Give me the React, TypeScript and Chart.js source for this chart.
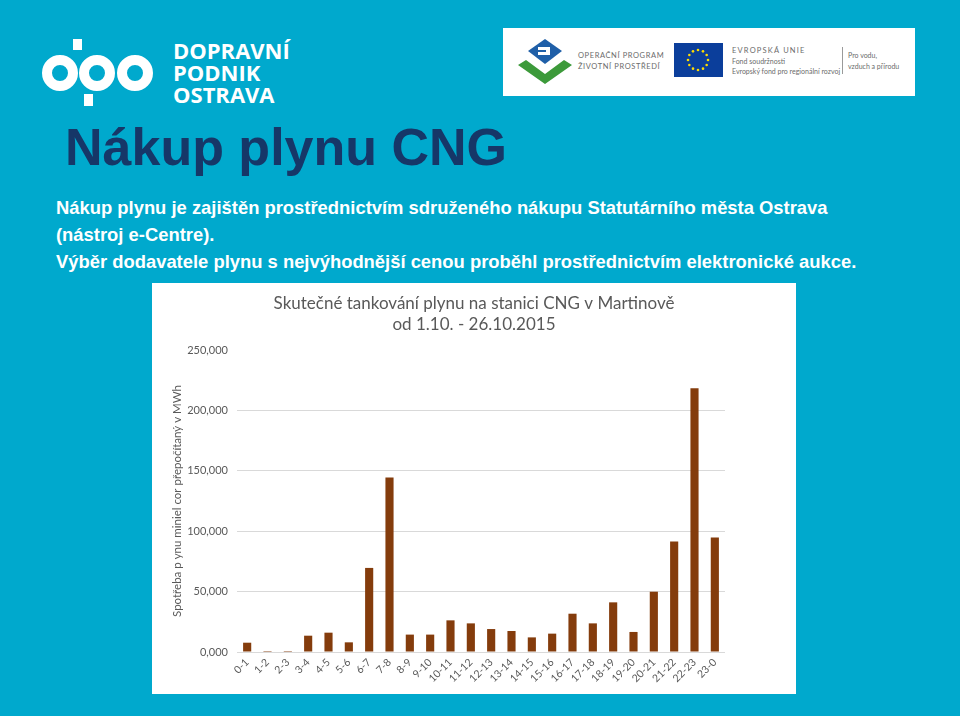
import React, { useEffect, useRef } from "react";
import { Chart, registerables } from "chart.js";

Chart.register(...registerables);

const categories = [
  "0-1", "1-2", "2-3", "3-4", "4-5", "5-6", "6-7", "7-8", "8-9", "9-10", "10-11", "11-12",
  "12-13", "13-14", "14-15", "15-16", "16-17", "17-18", "18-19", "19-20", "20-21", "21-22", "22-23", "23-0",
];
const consumption = [
  7700, 800, 800, 13500, 16000, 8000, 69600, 144400, 14400, 14400, 26200, 23700,
  19000, 17400, 12100, 15200, 31700, 23700, 41100, 16600, 49900, 91400, 218300, 94700,
];
const yTicks = [0, 50000, 100000, 150000, 200000, 250000];
const yTickLabels = ["0,000", "50,000", "100,000", "150,000", "200,000", "250,000"];
const chartTitle = ["Skutečné tankování plynu na stanici CNG v Martinově", "od 1.10. - 26.10.2015"];
const yAxisTitle = "Spotřeba p ynu miniel cor přepočítaný v MWh";

const slideTitle = "Nákup plynu CNG";
const bodyLines = [
  "Nákup plynu je zajištěn prostřednictvím sdruženého nákupu Statutárního města Ostrava",
  "(nástroj e-Centre).",
  "Výběr dodavatele plynu s nejvýhodnější cenou proběhl prostřednictvím elektronické aukce.",
];

const GRAY = "#595959";

function BarChart() {
  const ref = useRef<HTMLCanvasElement | null>(null);
  useEffect(() => {
    if (!ref.current) return;
    const chart = new Chart(ref.current, {
      type: "bar",
      data: {
        labels: categories,
        datasets: [
          {
            data: consumption,
            backgroundColor: "#843C0C",
            barPercentage: 0.4,
            categoryPercentage: 1,
            yAxisID: "y",
          },
        ],
      },
      options: {
        animation: false,
        responsive: false,
        maintainAspectRatio: false,
        layout: { padding: 0 },
        plugins: {
          legend: { display: false },
          tooltip: { enabled: false },
          title: {
            display: true,
            text: chartTitle,
            color: GRAY,
            font: { family: "Lato", size: 17, weight: "normal", lineHeight: 1.235 },
            padding: { top: 10, bottom: 15 },
          },
        },
        scales: {
          x: {
            grid: { display: false, drawTicks: false },
            border: { display: false },
            ticks: {
              color: GRAY,
              font: { family: "Lato", size: 10.5 },
              minRotation: 45,
              maxRotation: 45,
              autoSkip: false,
              padding: 4,
            },
            afterFit: (s: any) => {
              s.height = 42;
            },
          },
          y: {
            min: 0,
            max: 250000,
            afterBuildTicks: (s: any) => {
              s.ticks = yTicks.map((v) => ({ value: v }));
            },
            grid: {
              color: (ctx: any) =>
                ctx.tick && ctx.tick.value === 250000 ? "rgba(0,0,0,0)" : "#d9d9d9",
              drawTicks: false,
            },
            border: { display: false },
            ticks: {
              color: GRAY,
              font: { family: "Lato", size: 11 },
              padding: 9,
              callback: (_v: any, i: number) => yTickLabels[i],
            },
            title: {
              display: true,
              text: yAxisTitle,
              color: GRAY,
              font: { family: "Lato", size: 11.5 },
              padding: { top: 18, bottom: 0 },
            },
            afterFit: (s: any) => {
              s.width = 85;
            },
          },
          yRight: {
            type: "linear",
            position: "right",
            display: true,
            grid: { display: false, drawTicks: false },
            border: { display: false },
            ticks: { display: false },
            afterFit: (s: any) => {
              s.width = 71;
            },
          },
        },
      },
    });
    return () => chart.destroy();
  }, []);
  return (
    <canvas
      ref={ref}
      width={644}
      height={411}
      style={{ position: "absolute", left: 152, top: 283, width: 644, height: 411, background: "#fff" }}
    />
  );
}

function DpoLogo() {
  return (
    <>
      <svg width={140} height={80} style={{ position: "absolute", left: 30, top: 32 }}>
        <g fill="none" stroke="#fff" strokeWidth={10}>
          <circle cx={30} cy={41} r={13} />
          <circle cx={67} cy={41} r={13} />
          <circle cx={105} cy={41} r={13} />
        </g>
        <rect x={43} y={7} width={9} height={11} fill="#fff" />
        <rect x={54} y={62} width={9} height={12} fill="#fff" />
      </svg>
      <div
        style={{
          position: "absolute",
          left: 173,
          top: 39,
          color: "#fff",
          fontFamily: "'Open Sans', sans-serif",
          fontWeight: 700,
          fontSize: 22,
          lineHeight: "22px",
        }}
      >
        <div>DOPRAVNÍ</div>
        <div>PODNIK</div>
        <div>OSTRAVA</div>
      </div>
    </>
  );
}

function EuStars() {
  const stars = [];
  for (let i = 0; i < 12; i++) {
    const a = (i / 12) * Math.PI * 2;
    stars.push(<circle key={i} cx={24 + 10 * Math.cos(a)} cy={17 + 10 * Math.sin(a)} r={1.3} fill="#ffdd00" />);
  }
  return stars;
}

function PartnerLogos() {
  const small: React.CSSProperties = {
    position: "absolute",
    fontFamily: "Lato, sans-serif",
    color: "#6b6b6b",
    whiteSpace: "nowrap",
    lineHeight: 1,
  };
  return (
    <div style={{ position: "absolute", left: 503, top: 28, width: 412, height: 68, background: "#fff" }}>
      <svg width={56} height={46} style={{ position: "absolute", left: 14, top: 11 }}>
        <polygon points="28,0 45,12 28,25 11,12" fill="#1f5fa8" />
        <polygon points="21,8 33,8 33,16 21,16 21,13 29,13 29,11 21,11" fill="#fff" />
        <polygon points="1,26 9,21 28,35 47,21 55,26 28,45" fill="#3c9a3a" />
      </svg>
      <div style={{ ...small, left: 75, top: 24, fontSize: 7.5, letterSpacing: 0.6 }}>OPERAČNÍ PROGRAM</div>
      <div style={{ ...small, left: 75, top: 35, fontSize: 7.5, letterSpacing: 0.6 }}>ŽIVOTNÍ PROSTŘEDÍ</div>
      <svg width={49} height={34} style={{ position: "absolute", left: 171, top: 15 }}>
        <rect x={0} y={0} width={49} height={34} fill="#0b3e9b" />
        <EuStars />
      </svg>
      <div style={{ ...small, left: 229, top: 19, fontSize: 7.5, letterSpacing: 1.2 }}>EVROPSKÁ UNIE</div>
      <div style={{ ...small, left: 229, top: 30, fontSize: 7 }}>Fond soudržnosti</div>
      <div style={{ ...small, left: 229, top: 40, fontSize: 7 }}>Evropský fond pro regionální rozvoj</div>
      <div style={{ position: "absolute", left: 339, top: 19, width: 1, height: 27, background: "#9a9a9a" }} />
      <div style={{ ...small, left: 345, top: 24, fontSize: 7 }}>Pro vodu,</div>
      <div style={{ ...small, left: 345, top: 35, fontSize: 7 }}>vzduch a přírodu</div>
    </div>
  );
}

export default function App() {
  return (
    <div
      style={{
        position: "absolute",
        left: 0,
        top: 0,
        width: 960,
        height: 716,
        background: "#00a9cd",
        overflow: "hidden",
        fontFamily: "'Liberation Sans', Arial, sans-serif",
      }}
    >
      <DpoLogo />
      <PartnerLogos />
      <div
        style={{
          position: "absolute",
          left: 65,
          top: 121,
          fontSize: 52,
          lineHeight: "52px",
          fontWeight: 700,
          color: "#163768",
          whiteSpace: "nowrap",
        }}
      >
        {slideTitle}
      </div>
      <div
        style={{
          position: "absolute",
          left: 56,
          top: 194,
          fontSize: 18.4,
          lineHeight: "27px",
          fontWeight: 700,
          color: "#fff",
          whiteSpace: "nowrap",
        }}
      >
        {bodyLines.map((l, i) => (
          <div key={i}>{l}</div>
        ))}
      </div>
      <BarChart />
    </div>
  );
}
